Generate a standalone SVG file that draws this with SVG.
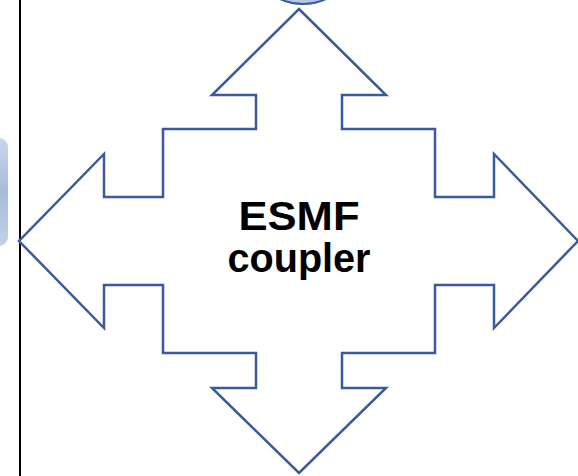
<svg xmlns="http://www.w3.org/2000/svg" width="578" height="476" viewBox="0 0 578 476">
<defs>
<linearGradient id="lg" x1="0" y1="0" x2="0" y2="1">
<stop offset="0" stop-color="#c9d7ea"/>
<stop offset="0.5" stop-color="#a6bcda"/>
<stop offset="1" stop-color="#c3d2e7"/>
</linearGradient>
</defs>
<style>
.arrow{fill:#ffffff;stroke:#3a5a9b;stroke-width:2.5;stroke-linejoin:miter}
.lbl{font-family:"Liberation Sans",Arial,sans-serif;font-weight:bold;font-size:41px;fill:#000;text-anchor:middle}
</style>
<rect width="578" height="476" fill="#ffffff"/>
<g id="left-box"><rect x="-40" y="138" width="48" height="108" rx="9" fill="url(#lg)"/></g>
<g id="top-circle"><circle cx="303" cy="-50" r="54" fill="#b4c7e7" stroke="#3a5a9b" stroke-width="2"/></g>
<g id="divider"><line x1="20" y1="0" x2="20" y2="476" stroke="#000" stroke-width="2"/></g>
<g id="coupler">
<polygon class="arrow" points="299,9 386,95 342,95 342,129 435,129 435,197 494,197 494,154 578,241 494,328 494,285 435,285 435,353 342,353 342,388 386,388 299,473 212,388 256,388 256,353 163,353 163,285 104,285 104,328 19,241 104,154 104,197 163,197 163,129 256,129 256,95 212,95"/>
<text class="lbl" x="299" y="230" textLength="121" lengthAdjust="spacingAndGlyphs">ESMF</text>
<text class="lbl" x="299" y="272" textLength="143" lengthAdjust="spacingAndGlyphs">coupler</text>
</g>
</svg>
